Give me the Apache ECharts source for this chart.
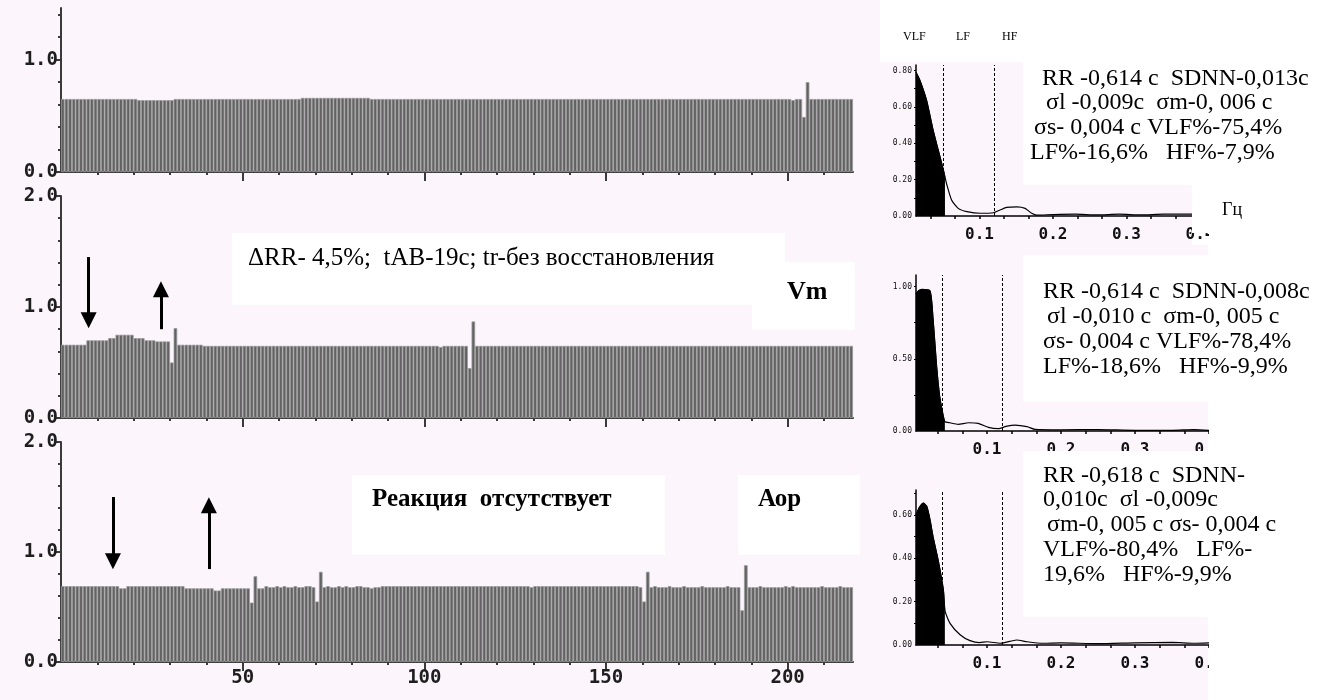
<!DOCTYPE html>
<html><head><meta charset="utf-8">
<script src="https://cdn.jsdelivr.net/npm/echarts@6.0.0/dist/echarts.min.js"></script>
<style>html,body{margin:0;padding:0;background:#fff;}#c{width:1326px;height:700px;}</style>
</head><body><div id="c"></div>
<script>
// ---------- DATA ----------
// RR intervals (s), one value per beat, three records
const rrTop = [
0.65,0.65,0.65,0.65,0.65,0.65,0.65,0.65,0.65,0.65,
0.65,0.65,0.65,0.65,0.65,0.65,0.65,0.65,0.65,0.65,
0.65,0.64,0.64,0.64,0.64,0.64,0.64,0.64,0.64,0.64,
0.64,0.65,0.65,0.65,0.65,0.65,0.65,0.65,0.65,0.65,
0.65,0.65,0.65,0.65,0.65,0.65,0.65,0.65,0.65,0.65,
0.65,0.65,0.65,0.65,0.65,0.65,0.65,0.65,0.65,0.65,
0.65,0.65,0.65,0.65,0.65,0.65,0.66,0.66,0.66,0.66,
0.66,0.66,0.66,0.66,0.66,0.66,0.66,0.66,0.66,0.66,
0.66,0.66,0.66,0.66,0.66,0.65,0.65,0.65,0.65,0.65,
0.65,0.65,0.65,0.65,0.65,0.65,0.65,0.65,0.65,0.65,
0.65,0.65,0.65,0.65,0.65,0.65,0.65,0.65,0.65,0.65,
0.65,0.65,0.65,0.65,0.65,0.65,0.65,0.65,0.65,0.65,
0.65,0.65,0.65,0.65,0.65,0.65,0.65,0.65,0.65,0.65,
0.65,0.65,0.65,0.65,0.65,0.65,0.65,0.65,0.65,0.65,
0.65,0.65,0.65,0.65,0.65,0.65,0.65,0.65,0.65,0.65,
0.65,0.65,0.65,0.65,0.65,0.65,0.65,0.65,0.65,0.65,
0.65,0.65,0.65,0.65,0.65,0.65,0.65,0.65,0.65,0.65,
0.65,0.65,0.65,0.65,0.65,0.65,0.65,0.65,0.65,0.65,
0.65,0.65,0.65,0.65,0.65,0.65,0.65,0.65,0.65,0.65,
0.65,0.65,0.65,0.65,0.65,0.65,0.65,0.65,0.65,0.65,
0.65,0.64,0.65,0.65,0.49,0.80,0.65,0.65,0.65,0.65,
0.65,0.65,0.65,0.65,0.65,0.65,0.65,0.65];
const rrMid = [
0.66,0.66,0.66,0.66,0.66,0.66,0.66,0.70,0.70,0.70,
0.70,0.70,0.70,0.72,0.72,0.75,0.75,0.75,0.75,0.75,
0.72,0.72,0.72,0.70,0.70,0.70,0.69,0.69,0.69,0.69,
0.50,0.81,0.66,0.66,0.66,0.66,0.66,0.66,0.66,0.65,
0.65,0.65,0.65,0.65,0.65,0.65,0.65,0.65,0.65,0.65,
0.65,0.65,0.65,0.65,0.65,0.65,0.65,0.65,0.65,0.65,
0.65,0.65,0.65,0.65,0.65,0.65,0.65,0.65,0.65,0.65,
0.65,0.65,0.65,0.65,0.65,0.65,0.65,0.65,0.65,0.65,
0.65,0.65,0.65,0.65,0.65,0.65,0.65,0.65,0.65,0.65,
0.65,0.65,0.65,0.65,0.65,0.65,0.65,0.65,0.65,0.65,
0.65,0.65,0.65,0.65,0.64,0.65,0.65,0.65,0.65,0.65,
0.65,0.65,0.45,0.87,0.65,0.65,0.65,0.65,0.65,0.65,
0.65,0.65,0.65,0.65,0.65,0.65,0.65,0.65,0.65,0.65,
0.65,0.65,0.65,0.65,0.65,0.65,0.65,0.65,0.65,0.65,
0.65,0.65,0.65,0.65,0.65,0.65,0.65,0.65,0.65,0.65,
0.65,0.65,0.65,0.65,0.65,0.65,0.65,0.65,0.65,0.65,
0.65,0.65,0.65,0.65,0.65,0.65,0.65,0.65,0.65,0.65,
0.65,0.65,0.65,0.65,0.65,0.65,0.65,0.65,0.65,0.65,
0.65,0.65,0.65,0.65,0.65,0.65,0.65,0.65,0.65,0.65,
0.65,0.65,0.65,0.65,0.65,0.65,0.65,0.65,0.65,0.65,
0.65,0.65,0.65,0.65,0.65,0.65,0.65,0.65,0.65,0.65,
0.65,0.65,0.65,0.65,0.65,0.65,0.65,0.65];
const rrBot = [
0.69,0.69,0.69,0.69,0.69,0.69,0.69,0.69,0.69,0.69,
0.69,0.69,0.69,0.69,0.69,0.69,0.67,0.67,0.69,0.69,
0.69,0.69,0.69,0.69,0.69,0.69,0.69,0.69,0.69,0.69,
0.69,0.69,0.69,0.69,0.67,0.67,0.67,0.67,0.67,0.67,
0.67,0.67,0.65,0.65,0.67,0.67,0.67,0.67,0.67,0.67,
0.67,0.67,0.54,0.78,0.67,0.67,0.69,0.68,0.68,0.69,
0.68,0.69,0.68,0.68,0.69,0.68,0.68,0.69,0.69,0.68,
0.55,0.82,0.68,0.69,0.68,0.68,0.69,0.68,0.69,0.68,
0.68,0.69,0.69,0.68,0.68,0.67,0.68,0.68,0.69,0.69,
0.69,0.69,0.69,0.69,0.69,0.69,0.69,0.69,0.69,0.69,
0.69,0.69,0.69,0.69,0.69,0.69,0.69,0.69,0.69,0.69,
0.69,0.69,0.69,0.69,0.69,0.69,0.69,0.69,0.69,0.69,
0.69,0.69,0.69,0.69,0.69,0.69,0.69,0.69,0.69,0.68,
0.69,0.69,0.69,0.69,0.69,0.69,0.69,0.69,0.69,0.69,
0.69,0.69,0.69,0.69,0.69,0.69,0.69,0.69,0.69,0.69,
0.69,0.69,0.69,0.69,0.69,0.69,0.69,0.69,0.69,0.68,
0.55,0.82,0.68,0.69,0.68,0.68,0.68,0.69,0.68,0.68,
0.68,0.69,0.68,0.68,0.68,0.68,0.69,0.68,0.68,0.68,
0.68,0.68,0.68,0.69,0.68,0.68,0.68,0.47,0.88,0.68,
0.68,0.68,0.69,0.68,0.68,0.68,0.68,0.68,0.68,0.69,
0.68,0.69,0.68,0.68,0.68,0.68,0.68,0.68,0.68,0.69,
0.68,0.68,0.68,0.68,0.69,0.68,0.68,0.68];
const rrYMax = [1.46, 2.0, 2.0];
const rrYLabelValues = [[0, 1], [0, 1, 2], [0, 1, 2]];
const rrYMinorTicks = [0.2,0.4,0.6,0.8,1.2,1.4,1.6,1.8];
const rrXMax = 218;
const rrXMinorTicks = [10,20,30,40,60,70,80,90,110,120,130,140,160,170,180,190,210];
const rrXLabelValues = [50, 100, 150, 200];
// arrows: [beat, from RR, to RR]
const arrowsMid = [[7.6, 1.45, 0.88], [27.5, 0.80, 1.16]];
const arrowsBot = [[14.3, 1.50, 0.915], [40.7, 0.845, 1.425]];

// spectra: frequency (Hz) and power
const spec1Freq = [0.0136,0.019,0.028,0.037,0.044,0.051,0.053,0.055,0.062,0.071,0.083,0.101,0.119,0.128,0.137,0.151,0.162,0.171,0.178,0.2,0.23,0.26,0.29,0.32,0.35,0.4];
const spec1Pow  = [0.79,0.745,0.636,0.47,0.36,0.25,0.215,0.18,0.088,0.042,0.024,0.015,0.018,0.033,0.047,0.05,0.042,0.015,0.005,0.008,0.01,0.006,0.01,0.006,0.01,0.01];
const spec2Freq = [0.004,0.007,0.012,0.023,0.027,0.032,0.036,0.041,0.043,0.050,0.061,0.075,0.088,0.102,0.115,0.127,0.138,0.154,0.165,0.2,0.25,0.3,0.35,0.38,0.4];
const spec2Pow  = [0.95,0.97,0.98,0.97,0.78,0.44,0.24,0.10,0.064,0.057,0.046,0.057,0.053,0.025,0.016,0.034,0.041,0.03,0.011,0.008,0.01,0.005,0.005,0.01,0.005];
const spec3Freq = [0.004,0.0086,0.014,0.0185,0.023,0.027,0.034,0.041,0.043,0.05,0.064,0.077,0.09,0.1,0.118,0.14,0.154,0.176,0.2,0.25,0.3,0.35,0.38,0.4];
const spec3Pow  = [0.60,0.635,0.654,0.64,0.577,0.50,0.39,0.254,0.16,0.10,0.046,0.02,0.011,0.015,0.008,0.023,0.015,0.008,0.01,0.006,0.01,0.012,0.008,0.01];
const specBands = [[0.053, 0.118], [0.043, 0.117], [0.043, 0.117]];
const specXRange = [[0.0136, 0.4], [0.004, 0.4], [0.004, 0.4]];
const specYMax = [0.83, 1.08, 0.715];
const specYLabelValues = [[0, 0.2, 0.4, 0.6, 0.8], [0, 0.5, 1.0], [0, 0.2, 0.4, 0.6]];
const specYTicks = [[0.1,0.2,0.3,0.4,0.5,0.6,0.7,0.8],[0.25,0.5,0.75,1.0],[0.1,0.2,0.3,0.4,0.5,0.6,0.7]];
const specXLabelValues = [0.1, 0.2, 0.3, 0.4];
const specXTicks = [0.0333,0.0667,0.1,0.1333,0.1667,0.2,0.2333,0.2667,0.3,0.3333,0.3667,0.4];
const bandNames = ['VLF', 'LF', 'HF'];
const spec1Text = ['RR -0,614 c  SDNN-0,013c', 'σl -0,009c  σm-0, 006 c', 'σs- 0,004 c VLF%-75,4%', 'LF%-16,6%   HF%-7,9%'];
const spec2Text = ['RR -0,614 c  SDNN-0,008c', 'σl -0,010 c  σm-0, 005 c', 'σs- 0,004 c VLF%-78,4%', 'LF%-18,6%   HF%-9,9%'];
const spec3Text = ['RR -0,618 c  SDNN-', '0,010c  σl -0,009c', 'σm-0, 005 c σs- 0,004 c', 'VLF%-80,4%   LF%-', '19,6%   HF%-9,9%'];
const midNote = 'ΔRR- 4,5%;  tAB-19c; tr-без восстановления';
const midTag = 'Vm';
const botNote = 'Реакция  отсутствует';
const botTag = 'Аор';
const freqUnit = 'Гц';

// ---------- BUILD ----------
const PINK = '#fdf5fc';
const AX = '#3a3a3a';
const MONO = 'DejaVu Sans Mono';
const SERIF = 'Liberation Serif';

const grids = [
  {left: 61, top: 8, width: 792, height: 164},
  {left: 61, top: 196, width: 792, height: 222},
  {left: 61, top: 442, width: 792, height: 220},
  {left: 916, top: 65, width: 284, height: 151},
  {left: 916, top: 275, width: 293, height: 156},
  {left: 916, top: 490, width: 293, height: 155}
];
const xAxis = [], yAxis = [], series = [];
const rrSets = [rrTop, rrMid, rrBot];
const arrowSets = [[], arrowsMid, arrowsBot];

for (let g = 0; g < 3; g++) {
  xAxis.push({gridIndex: g, type: 'value', min: 0, max: rrXMax, position: 'bottom',
    axisLine: {show: true, onZero: false, lineStyle: {color: AX, width: 2}},
    axisTick: {show: true, customValues: rrXMinorTicks, length: 3, lineStyle: {color: AX, width: 2}},
    axisLabel: {show: false}, splitLine: {show: false}});
  xAxis.push({gridIndex: g, type: 'value', min: 0, max: rrXMax, position: 'bottom',
    axisLine: {show: false, onZero: false},
    axisTick: {show: true, customValues: rrXLabelValues, length: 9, lineStyle: {color: AX, width: 2}},
    axisLabel: {show: g === 2, customValues: rrXLabelValues, margin: 7, color: '#1e1e1e',
      fontFamily: MONO, fontWeight: 'bold', fontSize: 19},
    splitLine: {show: false}});
  yAxis.push({gridIndex: g, type: 'value', min: 0, max: rrYMax[g], position: 'left',
    axisLine: {show: true, onZero: false, lineStyle: {color: AX, width: 2}},
    axisTick: {show: true, customValues: rrYMinorTicks.filter(v => v < rrYMax[g]), length: 3, lineStyle: {color: AX, width: 2}},
    axisLabel: {show: false}, splitLine: {show: false}});
  yAxis.push({gridIndex: g, type: 'value', min: 0, max: rrYMax[g], position: 'left',
    axisLine: {show: false, onZero: false},
    axisTick: {show: true, customValues: rrYLabelValues[g], length: 7, lineStyle: {color: AX, width: 2}},
    axisLabel: {show: true, customValues: rrYLabelValues[g], margin: 3, color: '#1e1e1e',
      formatter: v => v.toFixed(1), fontFamily: MONO, fontWeight: 'bold', fontSize: 19},
    splitLine: {show: false}});
  const s = {type: 'bar', xAxisIndex: g * 2, yAxisIndex: g * 2,
    data: rrSets[g].map((v, i) => [i + 0.5, v]), barWidth: 3.63,
    itemStyle: {color: '#626262', borderColor: '#9c9c9c', borderWidth: 0.8},
    silent: true, animation: false};
  if (arrowSets[g].length) {
    s.markLine = {silent: true, symbol: ['none', 'triangle'], symbolSize: 16,
      lineStyle: {color: '#000', width: 3, type: 'solid'}, itemStyle: {color: '#000'}, label: {show: false},
      data: arrowSets[g].map(a => [{coord: [a[0], a[1]]}, {coord: [a[0], a[2]]}])};
  }
  series.push(s);
}

const specF = [spec1Freq, spec2Freq, spec3Freq];
const specP = [spec1Pow, spec2Pow, spec3Pow];
for (let k = 0; k < 3; k++) {
  const g = 3 + k;
  xAxis.push({gridIndex: g, type: 'value', min: specXRange[k][0], max: specXRange[k][1], position: 'bottom',
    axisLine: {show: true, onZero: false, lineStyle: {color: '#000', width: 1.5}},
    axisTick: {show: true, customValues: specXTicks, length: 3, lineStyle: {color: '#000', width: 1.5}},
    axisLabel: {show: true, customValues: specXLabelValues, margin: 11, color: '#111',
      formatter: v => v.toFixed(1), fontFamily: MONO, fontWeight: 'bold', fontSize: 16},
    splitLine: {show: false}});
  yAxis.push({gridIndex: g, type: 'value', min: 0, max: specYMax[k], position: 'left',
    axisLine: {show: true, onZero: false, lineStyle: {color: '#000', width: 1.5}},
    axisTick: {show: true, customValues: specYTicks[k], length: 2, lineStyle: {color: '#000', width: 1}},
    axisLabel: {show: true, customValues: specYLabelValues[k], margin: 4, color: '#111',
      formatter: v => v.toFixed(2), fontFamily: MONO, fontSize: 8},
    splitLine: {show: false}});
  const pts = specF[k].map((f, i) => [f, specP[k][i]]);
  const vlf = pts.filter(p => p[0] <= specBands[k][0] + 1e-9);
  series.push({type: 'line', xAxisIndex: 6 + k, yAxisIndex: 6 + k, data: vlf, symbol: 'none',
    smooth: 0.2, lineStyle: {color: '#000', width: 1}, areaStyle: {color: '#000', opacity: 1},
    silent: true, animation: false, z: 3});
  series.push({type: 'line', xAxisIndex: 6 + k, yAxisIndex: 6 + k, data: pts, symbol: 'none',
    smooth: 0.2, lineStyle: {color: '#000', width: 1.2}, silent: true, animation: false, z: 4,
    markLine: {silent: true, symbol: 'none', label: {show: false},
      lineStyle: {color: '#000', width: 1, type: [3, 2]},
      data: specBands[k].map(b => ({xAxis: b}))}});
}

function rect(x, y, w, h, fill, z) {
  return {type: 'rect', shape: {x: x, y: y, width: w, height: h}, style: {fill: fill}, z: z, silent: true};
}
function txt(x, y, t, size, bold, z) {
  return {type: 'text', x: x, y: y, z: z || 60, silent: true,
    style: {text: t, fontFamily: SERIF, fontSize: size, fontWeight: bold ? 'bold' : 'normal',
      fill: '#000', verticalAlign: 'middle', align: 'left'}};
}
const graphics = [
  rect(0, 0, 880, 700, PINK, -10),
  rect(880, 62, 312, 183, PINK, -10),
  rect(880, 245, 328, 203, PINK, -10),
  rect(880, 448, 328, 252, PINK, -10),
  // white boxes / image edges
  rect(1023, 0, 303, 185, '#fff', 50),
  rect(1023, 255, 303, 147, '#fff', 50),
  rect(1023, 451, 303, 166, '#fff', 50),
  rect(1192, 0, 134, 233, '#fff', 50),
  rect(1209, 233, 117, 467, '#fff', 50),
  rect(232, 233, 553, 72, '#fff', 50),
  rect(752, 262, 103, 68, '#fff', 50),
  rect(352, 475, 313, 80, '#fff', 50),
  rect(738, 475, 122, 80, '#fff', 50),
  txt(248, 258, midNote, 25, false),
  txt(787, 292, midTag, 26, true),
  txt(372, 500, botNote, 25, true),
  txt(758, 500, botTag, 25, true),
  txt(1222, 210, freqUnit, 18, false)
];
const bandX = [903, 956, 1002];
bandNames.forEach((n, i) => graphics.push(txt(bandX[i], 37, n, 12, false)));
const s1x = [1042, 1046, 1034, 1030], s1y = [79, 103, 128, 153];
spec1Text.forEach((t, i) => graphics.push(txt(s1x[i], s1y[i], t, 24, false)));
const s2x = [1043, 1047, 1043, 1043], s2y = [292, 317, 342, 367];
spec2Text.forEach((t, i) => graphics.push(txt(s2x[i], s2y[i], t, 24, false)));
const s3x = [1043, 1043, 1047, 1043, 1043], s3y = [476, 500, 525, 550, 575];
spec3Text.forEach((t, i) => graphics.push(txt(s3x[i], s3y[i], t, 24, false)));

const chart = echarts.init(document.getElementById('c'), null, {renderer: 'canvas'});
chart.setOption({
  backgroundColor: '#fff',
  animation: false,
  grid: grids,
  xAxis: xAxis,
  yAxis: yAxis,
  series: series,
  graphic: {elements: graphics}
});
</script>
</body></html>
